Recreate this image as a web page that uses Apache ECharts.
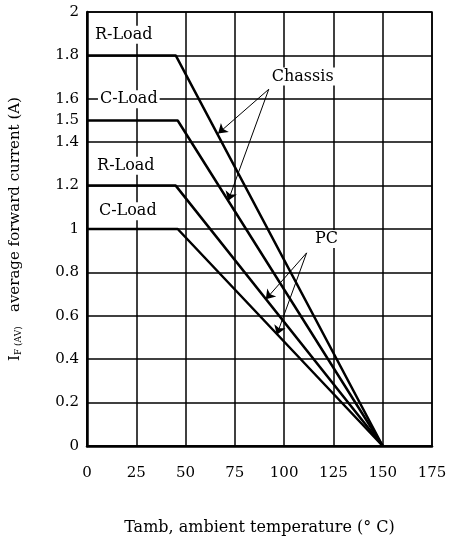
<!DOCTYPE html>
<html><head><meta charset="utf-8">
<script src="https://cdn.jsdelivr.net/npm/echarts@6/dist/echarts.min.js"></script>
<style>html,body{margin:0;padding:0;background:#fff}#c{width:458px;height:541px}</style>
</head><body><div id="c"></div>
<script>
// ---- data ----
var xTicks = [0, 25, 50, 75, 100, 125, 150, 175];
var yTickLabels = [0, 0.2, 0.4, 0.6, 0.8, 1, 1.2, 1.4, 1.5, 1.6, 1.8, 2];
var chassisRLoad = [[0, 1.8], [45, 1.8], [150, 0]];
var chassisCLoad = [[0, 1.5], [46, 1.5], [150, 0]];
var pcRLoad = [[0, 1.2], [45, 1.2], [150, 0]];
var pcCLoad = [[0, 1.0], [46, 1.0], [150, 0]];
var curveLabels = [
  {text: 'R-Load', at: [18.6, 1.895]},
  {text: 'C-Load', at: [21.2, 1.598]},
  {text: 'R-Load', at: [19.7, 1.292]},
  {text: 'C-Load', at: [20.7, 1.082]},
  {text: 'Chassis', at: [109.4, 1.703]},
  {text: 'PC', at: [121.5, 0.954]}
];
var arrowLines = [
  [[92.2, 1.644], [66.5, 1.44]],
  [[92.2, 1.644], [71.6, 1.13]],
  [[111.4, 0.89], [90.7, 0.676]],
  [[111.4, 0.89], [96.3, 0.513]]
];

var FONT = 'DejaVu Serif';
var chart = echarts.init(document.getElementById('c'));
function lineSeries(d) {
  return {type: 'line', data: d, symbol: 'none', z: 5,
    lineStyle: {color: '#000', width: 2.5}, animation: false};
}
chart.setOption({
  animation: false,
  backgroundColor: '#fff',
  grid: {left: 85, right: 26, top: 12, bottom: 91, show: true, borderColor: '#000', borderWidth: 1.5},
  xAxis: {
    type: 'value', min: 0, max: 175, interval: 25,
    name: 'Tamb, ambient temperature (° C)', nameLocation: 'middle', nameGap: 74,
    nameTextStyle: {fontFamily: FONT, fontSize: 16, color: '#000'},
    axisLine: {show: true, lineStyle: {color: '#000', width: 2.5}},
    axisTick: {show: false},
    axisLabel: {fontFamily: FONT, fontSize: 15, color: '#000', margin: 20},
    splitLine: {show: true, lineStyle: {color: '#000', width: 1.5}}
  },
  yAxis: {
    type: 'value', min: 0, max: 2, interval: 0.2,
    name: '{m|I}{s|F (AV)}{m|   average forward current (A)}', nameLocation: 'middle', nameGap: 64, nameRotate: 90,
    nameTextStyle: {fontFamily: FONT, fontSize: 15, color: '#000',
      rich: {m: {fontFamily: FONT, fontSize: 15, color: '#000'},
             s: {fontFamily: FONT, fontSize: 9, color: '#000', verticalAlign: 'bottom', padding: [6, 0, 0, 0]}}},
    axisLine: {show: true, lineStyle: {color: '#000', width: 2.5}},
    axisTick: {show: false},
    axisLabel: {fontFamily: FONT, fontSize: 15, color: '#000', margin: 8,
      customValues: yTickLabels, formatter: function (v) { return String(Math.round(v * 10) / 10); }},
    splitLine: {show: true, lineStyle: {color: '#000', width: 1.5}}
  },
  series: [
    lineSeries(chassisRLoad), lineSeries(chassisCLoad), lineSeries(pcRLoad), lineSeries(pcCLoad),
    {type: 'lines', coordinateSystem: 'cartesian2d', z: 6, animation: false,
      symbol: ['none', 'arrow'], symbolSize: [0, 9],
      lineStyle: {color: '#000', width: 1, opacity: 1},
      data: arrowLines.map(function (p) { return {coords: p}; })},
    {type: 'scatter', symbolSize: 0, z: 7, animation: false,
      itemStyle: {opacity: 1},
      data: curveLabels.map(function (l) { return {value: l.at, name: l.text}; }),
      label: {show: true, position: 'inside', formatter: '{b}', fontFamily: FONT, fontSize: 16, color: '#000',
        opacity: 1, backgroundColor: '#fff', padding: [1, 2]}}
  ]
});
</script></body></html>
